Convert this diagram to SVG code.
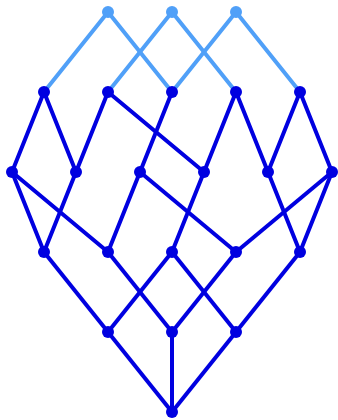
<svg xmlns="http://www.w3.org/2000/svg" width="338" height="420" viewBox="0 0 338 420">
<style>
.l{stroke:#50a0f8;stroke-width:4;stroke-linecap:round;fill:none}
.d{stroke:#0000e0;stroke-width:4;stroke-linecap:round;fill:none}
.nl{fill:#50a0f8}
.nd{fill:#0000e0}
</style>
<rect width="338" height="420" fill="#fff"/>
<g id="connectors">
<line class="l" x1="108" y1="12" x2="44" y2="92"/>
<line class="l" x1="108" y1="12" x2="172" y2="92"/>
<line class="l" x1="172" y1="12" x2="108" y2="92"/>
<line class="l" x1="172" y1="12" x2="236" y2="92"/>
<line class="l" x1="236" y1="12" x2="172" y2="92"/>
<line class="l" x1="236" y1="12" x2="300" y2="92"/>
<line class="d" x1="44" y1="92" x2="12" y2="172"/>
<line class="d" x1="44" y1="92" x2="76" y2="172"/>
<line class="d" x1="108" y1="92" x2="76" y2="172"/>
<line class="d" x1="108" y1="92" x2="204" y2="172"/>
<line class="d" x1="172" y1="92" x2="140" y2="172"/>
<line class="d" x1="236" y1="92" x2="204" y2="172"/>
<line class="d" x1="236" y1="92" x2="268" y2="172"/>
<line class="d" x1="300" y1="92" x2="268" y2="172"/>
<line class="d" x1="300" y1="92" x2="332" y2="172"/>
<line class="d" x1="12" y1="172" x2="44" y2="252"/>
<line class="d" x1="12" y1="172" x2="108" y2="252"/>
<line class="d" x1="76" y1="172" x2="44" y2="252"/>
<line class="d" x1="140" y1="172" x2="108" y2="252"/>
<line class="d" x1="140" y1="172" x2="236" y2="252"/>
<line class="d" x1="204" y1="172" x2="172" y2="252"/>
<line class="d" x1="268" y1="172" x2="300" y2="252"/>
<line class="d" x1="332" y1="172" x2="236" y2="252"/>
<line class="d" x1="332" y1="172" x2="300" y2="252"/>
<line class="d" x1="44" y1="252" x2="108" y2="332"/>
<line class="d" x1="108" y1="252" x2="172" y2="332"/>
<line class="d" x1="172" y1="252" x2="108" y2="332"/>
<line class="d" x1="172" y1="252" x2="236" y2="332"/>
<line class="d" x1="236" y1="252" x2="172" y2="332"/>
<line class="d" x1="300" y1="252" x2="236" y2="332"/>
<line class="d" x1="108" y1="332" x2="172" y2="412"/>
<line class="d" x1="172" y1="332" x2="172" y2="412"/>
<line class="d" x1="236" y1="332" x2="172" y2="412"/>
</g>
<g id="n0a"><circle class="nl" cx="108" cy="12" r="6"/></g>
<g id="n0b"><circle class="nl" cx="172" cy="12" r="6"/></g>
<g id="n0c"><circle class="nl" cx="236" cy="12" r="6"/></g>
<g id="n1a"><circle class="nd" cx="44" cy="92" r="6"/></g>
<g id="n1b"><circle class="nd" cx="108" cy="92" r="6"/></g>
<g id="n1c"><circle class="nd" cx="172" cy="92" r="6"/></g>
<g id="n1d"><circle class="nd" cx="236" cy="92" r="6"/></g>
<g id="n1e"><circle class="nd" cx="300" cy="92" r="6"/></g>
<g id="n2a"><circle class="nd" cx="12" cy="172" r="6"/></g>
<g id="n2b"><circle class="nd" cx="76" cy="172" r="6"/></g>
<g id="n2c"><circle class="nd" cx="140" cy="172" r="6"/></g>
<g id="n2d"><circle class="nd" cx="204" cy="172" r="6"/></g>
<g id="n2e"><circle class="nd" cx="268" cy="172" r="6"/></g>
<g id="n2f"><circle class="nd" cx="332" cy="172" r="6"/></g>
<g id="n3a"><circle class="nd" cx="44" cy="252" r="6"/></g>
<g id="n3b"><circle class="nd" cx="108" cy="252" r="6"/></g>
<g id="n3c"><circle class="nd" cx="172" cy="252" r="6"/></g>
<g id="n3d"><circle class="nd" cx="236" cy="252" r="6"/></g>
<g id="n3e"><circle class="nd" cx="300" cy="252" r="6"/></g>
<g id="n4a"><circle class="nd" cx="108" cy="332" r="6"/></g>
<g id="n4b"><circle class="nd" cx="172" cy="332" r="6"/></g>
<g id="n4c"><circle class="nd" cx="236" cy="332" r="6"/></g>
<g id="n5a"><circle class="nd" cx="172" cy="412" r="6"/></g>
</svg>
